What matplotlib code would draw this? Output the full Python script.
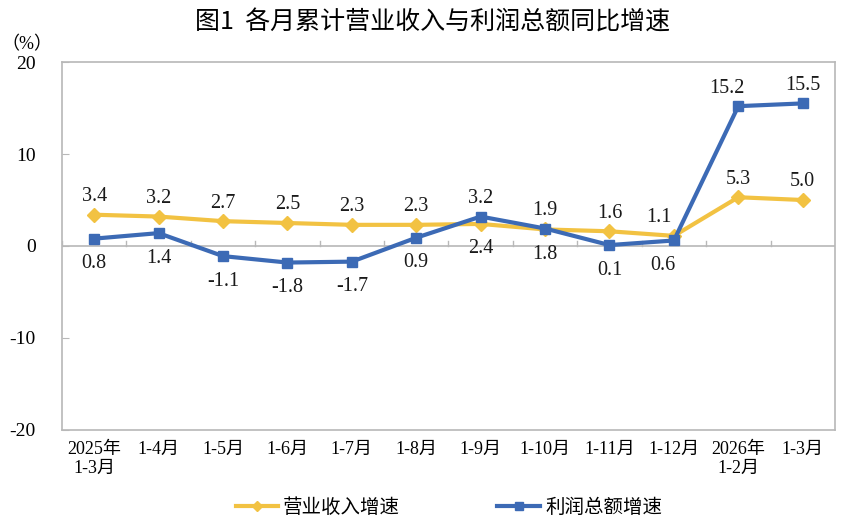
import matplotlib
matplotlib.use("Agg")
import matplotlib.pyplot as plt

plt.rcParams['font.family'] = ['Liberation Serif', 'Noto Sans CJK SC']

# 数据
categories = ["2025年\n1-3月", "1-4月", "1-5月", "1-6月", "1-7月", "1-8月",
              "1-9月", "1-10月", "1-11月", "1-12月", "2026年\n1-2月", "1-3月"]
revenue = [3.4, 3.2, 2.7, 2.5, 2.3, 2.3, 2.4, 1.8, 1.6, 1.1, 5.3, 5.0]
profit = [0.8, 1.4, -1.1, -1.8, -1.7, 0.9, 3.2, 1.9, 0.1, 0.6, 15.2, 15.5]
revenue_name = "营业收入增速"
profit_name = "利润总额增速"

# 标签位置（上/下）和水平偏移
revenue_pos = ["up"] * 6 + ["down", "down"] + ["up"] * 4
profit_pos = ["down"] * 6 + ["up", "up", "down", "down", "up", "up"]
revenue_dx = [0] * 9 + [-11, 0, 0]
profit_dx = [0] * 9 + [-8, -8, 0]

yellow = "#F2C242"
blue = "#3C6AB5"
grey = "#B8B8B8"

fig = plt.figure(figsize=(8.42, 5.30), dpi=100)
ax = fig.add_axes([0.0736, 0.1887, 0.918, 0.6943])

x = list(range(len(categories)))
ax.plot(x, revenue, color=yellow, lw=3, marker="D", ms=7, label=revenue_name, zorder=3)
ax.plot(x, profit, color=blue, lw=3, marker="s", ms=6.5, label=profit_name, zorder=4)

def put_labels(vals, pos, dxs):
    for i, (v, p, dx) in enumerate(zip(vals, pos, dxs)):
        dy = 13 if p == "up" else -18
        ax.annotate(f"{v:.1f}", (i, v), xytext=(dx, dy), textcoords="offset points",
                    ha="center", va="center", fontsize=14.5, color="#1a1a1a",
                    family="Liberation Serif", zorder=5)

put_labels(revenue, revenue_pos, revenue_dx)
put_labels(profit, profit_pos, profit_dx)

# 零线和刻度
ax.axhline(0, color=grey, lw=1.2, zorder=1)
for b in range(len(categories)):
    ax.plot([b - 0.5, b - 0.5], [0, 0.55], color=grey, lw=1, zorder=1)

ax.set_xlim(-0.5, len(categories) - 0.5)
ax.set_ylim(-20, 20)
ax.set_yticks([-20, -10, 0, 10, 20])
ax.set_yticklabels(["-20", "-10", "0", "10", "20"])
ax.set_xticks(x)
ax.set_xticklabels(categories, fontsize=13, linespacing=1.15)
ax.tick_params(axis="x", length=0, pad=8)
ax.tick_params(axis="y", direction="in", length=5, color=grey, labelsize=14, pad=19)
for s in ax.spines.values():
    s.set_color(grey)
    s.set_linewidth(1.2)

fig.text(0.032, 0.915, "（%）", fontsize=13, ha="center", va="center",
         family=["Liberation Serif", "Noto Sans CJK SC"])
fig.text(0.514, 0.958, "图1  各月累计营业收入与利润总额同比增速", fontsize=18,
         ha="center", va="center", family=["Noto Sans CJK SC"])

fig.legend(loc="center", bbox_to_anchor=(0.533, 0.043), ncol=2, frameon=False,
           prop={"family": "Noto Sans CJK SC", "size": 14}, handlelength=2.2,
           handletextpad=0.25, columnspacing=5, markerscale=0.8)

fig.savefig("out.png", dpi=100)
